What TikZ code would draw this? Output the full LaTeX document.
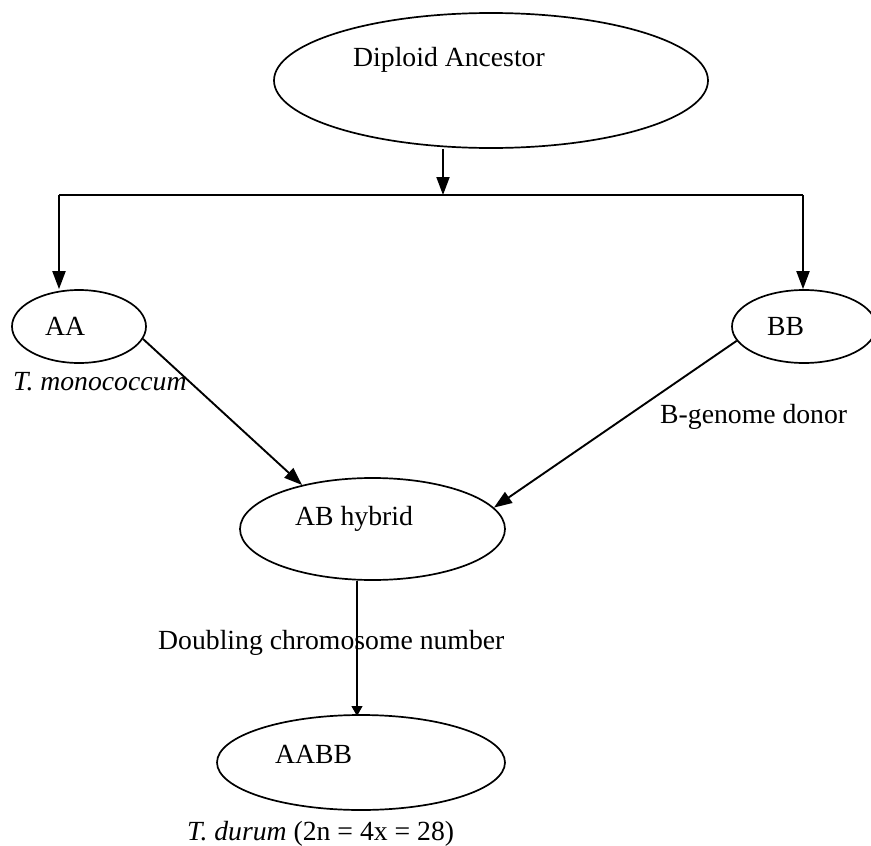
\documentclass[tikz,border=0pt]{standalone}
\usepackage{fontspec}
\setmainfont{Liberation Serif}
\usetikzlibrary{shapes.geometric,arrows.meta}
\tikzset{
  oval/.style={draw,ellipse,line width=1.7pt,inner sep=0pt},
  lbl/.style={inner sep=0pt,anchor=base west,font=\fontsize{27.7}{33}\selectfont},
  conn/.style={line width=1.9pt},
  arr/.style={conn,-{Triangle[length=18pt,width=13pt]}},
}
\begin{document}
\begin{tikzpicture}[x=1pt,y=-1pt]
\useasboundingbox (0,0) rectangle (871,846);
% ellipses
\node[oval,minimum width=434pt,minimum height=135pt] (dip) at (491,80.5) {};
\node[oval,minimum width=134pt,minimum height=73pt] (aa) at (79,326.5) {};
\node[oval,minimum width=144pt,minimum height=73pt] (bb) at (804,326.5) {};
\node[oval,minimum width=265pt,minimum height=102pt] (ab) at (372.5,529) {};
\node[oval,minimum width=288pt,minimum height=95pt] (aabb) at (361,762.5) {};
% texts
\node[lbl] (tdip) at (353,66.5) {Diploid Ancestor};
\node[lbl] (taa) at (45,335) {AA};
\node[lbl] (tmono) at (13,390) {\itshape T. monococcum};
\node[lbl] (tbb) at (767,335) {BB};
\node[lbl] (tdonor) at (660,423) {B-genome donor};
\node[lbl] (tab) at (295,525) {AB hybrid};
\node[lbl] (tdbl) at (158,649) {Doubling chromosome number};
\node[lbl] (taabb) at (275,763) {AABB};
\node[lbl] (tdur) at (187,840) {\textit{T. durum} (2n = 4x = 28)};
% connectors
\coordinate (split) at (443,195);
\coordinate (lc) at (59,195);
\coordinate (rc) at (803,195);
\draw[arr] (dip.south -| split) -- (split);
\draw[conn] (lc) -- (rc);
\draw[arr] (lc) -- (lc |- aa.north);
\draw[arr] (rc) -- (rc |- bb.north);
\draw[arr] (aa.-11) -- (ab.148);
\draw[arr] (bb.-168) -- (ab.10);
\draw[line width=1.1pt,-{Triangle[length=10pt,width=11pt]}] (357,580.5) -- (357,716);
\end{tikzpicture}
\end{document}
